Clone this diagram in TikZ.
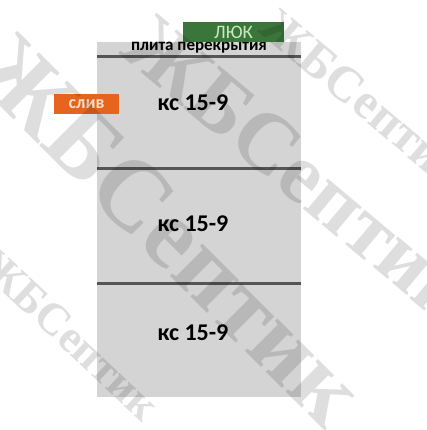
\documentclass[tikz,border=0pt]{standalone}
\usepackage{fontspec}
\setmainfont{Carlito}
\newfontfamily\wmfont{Liberation Serif}
\usetikzlibrary{positioning}
\definecolor{ringgray}{RGB}{212,212,212}
\definecolor{seamgray}{RGB}{85,85,85}
\definecolor{hatchgreen}{RGB}{58,118,58}
\definecolor{hatchtext}{RGB}{200,232,195}
\definecolor{drainorange}{RGB}{230,100,30}
\definecolor{draintext}{RGB}{250,225,200}
\newcommand{\ringlabel}[2]{ % Takes node name and y coord of the label
    \node[font=\bfseries\fontsize{24}{24}\selectfont] (#1) at (193,#2) {кс 15-9};
}
\newcommand{\watermark}[5]{ % Takes node name, x coord, y coord, angle, font size
    \node[rotate=#4, text=black, opacity=0.13, font=\wmfont\bfseries\fontsize{#5}{#5}\selectfont] (#1) at (#2,#3) {ЖБСептик};
}

\begin{document}
\begin{tikzpicture}[x=1pt, y=-1pt]
                % Frame
                \useasboundingbox (0,0) rectangle (427,430);

                % Well body
                \fill[ringgray] (97,42) rectangle (301,397);

                % Seams between rings
                \draw[line width=3pt, seamgray] (97,57) -- (301,57);
                \draw[line width=3pt, seamgray] (97,169) -- (301,169);
                \draw[line width=3pt, seamgray] (97,283) -- (301,283);

                % Slab and hatch
                \node[font=\bfseries\fontsize{17}{17}\selectfont] (slab) at (199,48) {плита перекрытия};
                \node[fill=hatchgreen, text=hatchtext, minimum width=101, minimum height=20, inner sep=0pt,
                      font=\fontsize{19}{19}\selectfont] (hatch) at (233.5,32) {ЛЮК};

                % Drain
                \node[fill=drainorange, text=draintext, minimum width=65, minimum height=20, inner sep=0pt,
                      font=\bfseries\fontsize{18}{18}\selectfont] (drain) at (86.5,104) {слив};

                % Rings
                \ringlabel{ring1}{103}
                \ringlabel{ring2}{224}
                \ringlabel{ring3}{333}

                % Watermark
                \watermark{wmA}{170}{230}{-45}{100}
                \watermark{wmB}{300}{170}{-40}{85}
                \watermark{wmC}{365}{100}{-40}{50}
                \watermark{wmD}{70}{335}{-43}{45}
\end{tikzpicture}
\end{document}
